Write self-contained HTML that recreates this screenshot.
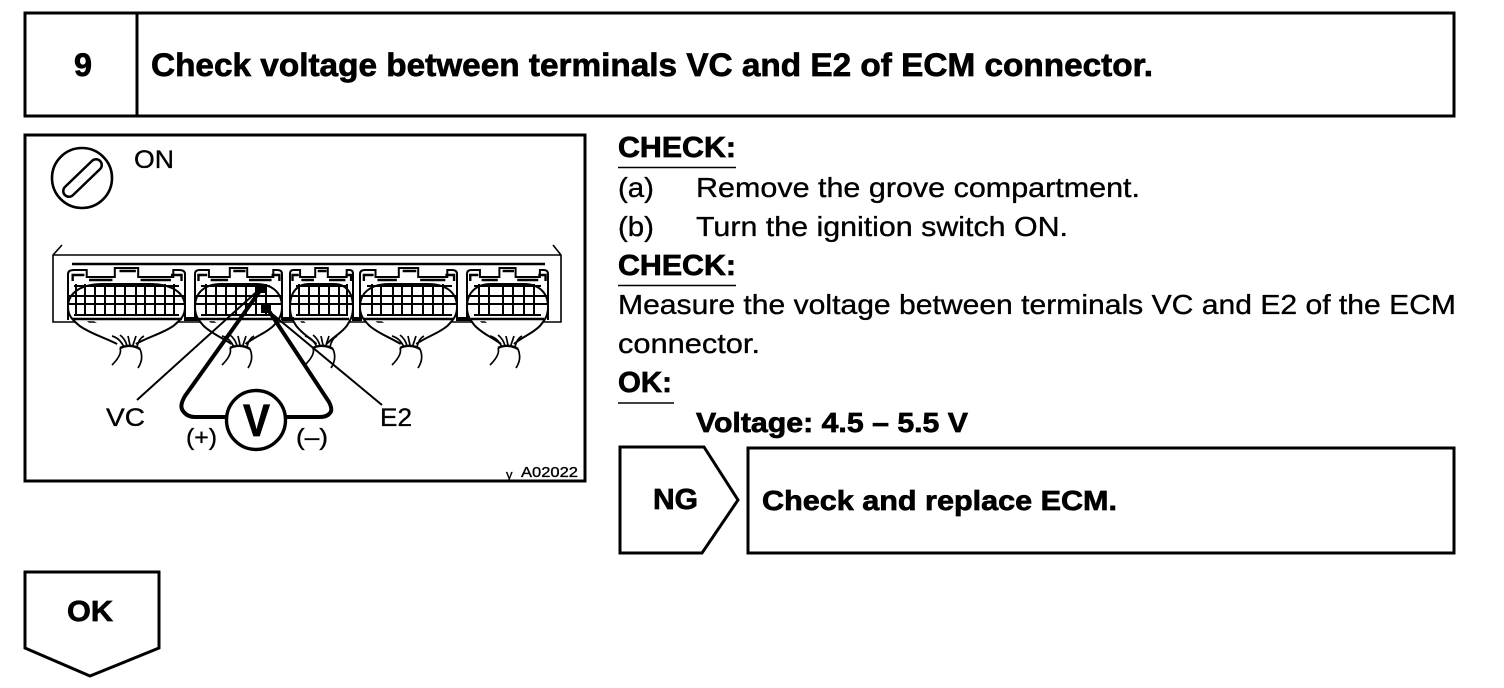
<!DOCTYPE html>
<html><head><meta charset="utf-8"><style>
html,body{margin:0;padding:0;background:#fff}
svg{display:block}
text{font-family:"Liberation Sans",sans-serif;fill:#000;stroke:#000;stroke-width:.35}
.b{font-weight:bold;stroke-width:.7}
.n *{vector-effect:non-scaling-stroke}
.g{fill:none;stroke:#000;stroke-width:2}
</style></head><body>
<svg width="1504" height="688" viewBox="0 0 1504 688" xmlns="http://www.w3.org/2000/svg">
<defs>
<g id="h" class="n" fill="none" stroke="#000">
<path d="M0 320V274Q0 270 5 270H16V277H40V268H60V277H90V270H95Q100 270 100 274V320" stroke-width="2"/>
<path d="M4 281V275H14M88 275H97V281M44 271H58M18 280H38M62 280H88" stroke-width="2.4"/>
<path d="M0 307C0 292 12 284 30 284H70C88 284 100 292 100 307C100 316 96 320 90 326C80 334 70 336 58 344M0 307C0 316 4 320 10 326C20 334 28 336 42 344" fill="#fff" stroke-width="2"/>
</g>
<g id="w" fill="none" stroke="#000" stroke-width="1.7">
<path d="M-4 348C-2 353-6 359-12 365M16 349C19 356 18 362 14 368"/>
<path d="M-4 348C2 345 10 345 16 349" stroke-width="2.4"/>
<path d="M-12 336C-5 338-2 343 0 347M-4 335C0 338 2 342 3 346M4 336L6 345M12 336L9 345M20 336C16 338 14 342 13 347"/>
</g>
</defs>

<!-- header -->
<rect x="25" y="13" width="1429" height="103" fill="#fff" stroke="#000" stroke-width="3"/>
<path d="M137 13V116" stroke="#000" stroke-width="3"/>
<text class="b" x="74" y="76" font-size="32" textLength="18" lengthAdjust="spacingAndGlyphs">9</text>
<text class="b" x="151" y="76" font-size="32" textLength="1002" lengthAdjust="spacingAndGlyphs">Check voltage between terminals VC and E2 of ECM connector.</text>

<!-- diagram -->
<rect x="25" y="135" width="560" height="346" fill="#fff" stroke="#000" stroke-width="3"/>
<circle cx="82" cy="178" r="30" fill="none" stroke="#000" stroke-width="2.6"/>
<path d="M69 191L96 165" stroke="#000" stroke-width="14" stroke-linecap="round"/>
<path d="M69 191L96 165" stroke="#fff" stroke-width="9" stroke-linecap="round"/>
<text x="134" y="168" font-size="25" textLength="40" lengthAdjust="spacingAndGlyphs">ON</text>

<path d="M62 245L53 255V322H561V255L553 245M53 255H561" fill="none" stroke="#000" stroke-width="1.6"/>
<path d="M72 264H545" stroke="#000" stroke-width="2.4"/>

<use href="#h" transform="translate(68 0) scale(1.17 1)"/>
<use href="#h" transform="translate(195 0) scale(.87 1)"/>
<use href="#h" transform="translate(290 0) scale(.63 1)"/>
<use href="#h" transform="translate(360 0) scale(.97 1)"/>
<use href="#h" transform="translate(467 0) scale(.81 1)"/>

<path class="g" d="M74 286H179M69 296H184M69 304H184M74 315H179M76 284V315M85 284V315M95 284V315M105 284V315M115 284V315M125 284V315M136 284V315M145 284V315M155 284V315M165 284V315M174 284V315"/>
<path class="g" d="M201 286H270M196 296H281M196 304H281M201 315H270M206 284V315M216 284V315M226 284V315M236 284V315M246 284V315M256 284V315M266 284V315"/>
<path class="g" d="M296 286H348M291 296H352M291 304H352M296 315H348M299 284V315M309 284V315M319 284V315M329 284V315M339 284V315M347 284V315"/>
<path class="g" d="M367 286H452M361 296H456M361 304H456M367 315H452M372 284V315M381 284V315M393 284V315M402 284V315M412 284V315M423 284V315M433 284V315M443 284V315"/>
<path class="g" d="M474 286H541M468 296H547M468 304H547M474 315H541M479 284V315M489 284V315M503 284V315M513 284V315M524 284V315M534 284V315"/>
<path d="M72 319H182M198 319H278M294 319H349M364 319H453M471 319H544" stroke="#000" stroke-width="2.4"/>
<path d="M184 319H198M282 319H294M352 319H362M456 319H470" stroke="#000" stroke-width="4"/>

<use href="#w" transform="translate(124 0)"/>
<use href="#w" transform="translate(234 0)"/>
<use href="#w" transform="translate(317 0)"/>
<use href="#w" transform="translate(404 0)"/>
<use href="#w" transform="translate(502 0)"/>

<path d="M262 287L137 400M265 308L382 405" stroke="#000" stroke-width="2" fill="none"/>
<path d="M262 288L185 396Q179 406 183 411Q187 417 195 417H226M267 308L329 402Q333 410 330 413Q327 417 320 417H286" stroke="#000" stroke-width="4" fill="none"/>
<rect x="257" y="284" width="10" height="9" fill="#000"/>
<rect x="261" y="305" width="10" height="8" fill="#000"/>
<circle cx="256" cy="420" r="29.5" fill="#fff" stroke="#000" stroke-width="3.4"/>
<text class="b" x="243" y="436" font-size="45" textLength="27" lengthAdjust="spacingAndGlyphs">V</text>
<text x="106" y="426" font-size="25" textLength="39" lengthAdjust="spacingAndGlyphs">VC</text>
<text x="380" y="426" font-size="25" textLength="32" lengthAdjust="spacingAndGlyphs">E2</text>
<text x="186" y="445" font-size="23" textLength="31" lengthAdjust="spacingAndGlyphs">(+)</text>
<text x="296" y="445" font-size="23" textLength="32" lengthAdjust="spacingAndGlyphs">(–)</text>
<text x="506" y="479" font-size="13">y</text>
<text x="521" y="477" font-size="15" textLength="57" lengthAdjust="spacingAndGlyphs">A02022</text>

<!-- text -->
<text class="b" x="618" y="157" font-size="29" textLength="118" lengthAdjust="spacingAndGlyphs">CHECK:</text>
<path d="M618 167.5H736" stroke="#000" stroke-width="1.6"/>
<text x="618" y="197" font-size="28" textLength="36" lengthAdjust="spacingAndGlyphs">(a)</text>
<text x="696" y="197" font-size="28" textLength="444" lengthAdjust="spacingAndGlyphs">Remove the grove compartment.</text>
<text x="618" y="236" font-size="28" textLength="36" lengthAdjust="spacingAndGlyphs">(b)</text>
<text x="696" y="236" font-size="28" textLength="372" lengthAdjust="spacingAndGlyphs">Turn the ignition switch ON.</text>
<text class="b" x="618" y="275" font-size="29" textLength="118" lengthAdjust="spacingAndGlyphs">CHECK:</text>
<path d="M618 285.5H736" stroke="#000" stroke-width="1.6"/>
<text x="618" y="314" font-size="28" textLength="838" lengthAdjust="spacingAndGlyphs">Measure the voltage between terminals VC and E2 of the ECM</text>
<text x="618" y="353" font-size="28" textLength="142" lengthAdjust="spacingAndGlyphs">connector.</text>
<text class="b" x="618" y="392" font-size="29" textLength="54" lengthAdjust="spacingAndGlyphs">OK:</text>
<path d="M618 403H674" stroke="#000" stroke-width="1.6"/>
<text class="b" x="696" y="432" font-size="28" textLength="272" lengthAdjust="spacingAndGlyphs">Voltage: 4.5 – 5.5 V</text>

<!-- NG -->
<path d="M620 447H704L738 500L702 553H620Z" fill="#fff" stroke="#000" stroke-width="3"/>
<text class="b" x="653" y="509" font-size="29" textLength="45" lengthAdjust="spacingAndGlyphs">NG</text>
<rect x="748" y="448" width="706" height="105" fill="#fff" stroke="#000" stroke-width="3"/>
<text class="b" x="762" y="510" font-size="28" textLength="355" lengthAdjust="spacingAndGlyphs">Check and replace ECM.</text>

<!-- OK -->
<path d="M25 572H159V648L90 676L25 648Z" fill="#fff" stroke="#000" stroke-width="3"/>
<text class="b" x="67" y="621" font-size="29" textLength="46" lengthAdjust="spacingAndGlyphs">OK</text>
</svg>
</body></html>
